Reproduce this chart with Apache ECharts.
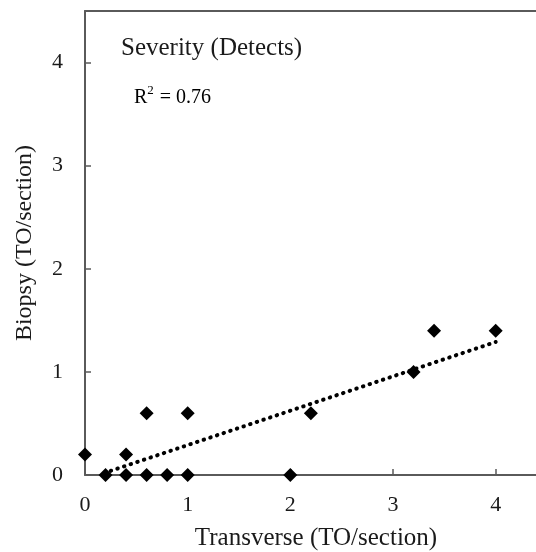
<!DOCTYPE html>
<html>
<head>
<meta charset="utf-8">
<script src="https://cdn.jsdelivr.net/npm/echarts@6/dist/echarts.min.js"></script>
<style>html,body{margin:0;padding:0;background:#fff;overflow:hidden}#c{width:536px;height:552px}</style>
</head>
<body>
<div id="c"></div>
<script>
var transverse = [0, 0.2, 0.4, 0.4, 0.6, 0.6, 0.8, 1, 1, 2, 2.2, 3.2, 3.4, 4];
var biopsy     = [0.2, 0, 0.2, 0, 0.6, 0, 0, 0.6, 0, 0, 0.6, 1.0, 1.4, 1.4];
var trendX = [0.25, 4];
var trendY = [0.04, 1.29];
var tickValues = [0, 1, 2, 3, 4];
var xTitle = 'Transverse (TO/section)';
var yTitle = 'Biopsy (TO/section)';
var chartTitle = 'Severity (Detects)';
var r2Base = 'R';
var r2Sup = '2';
var r2Rest = ' = 0.76';

var FONT = '"Liberation Serif", "Times New Roman", serif';
var TXT = '#1a1a1a';
var AX = '#5a5a5a';

var points = transverse.map(function (x, i) { return [x, biopsy[i]]; });
var trend = trendX.map(function (x, i) { return [x, trendY[i]]; });

var chart = echarts.init(document.getElementById('c'), null, {renderer: 'canvas'});
var axisCommon = {
  type: 'value', min: 0, max: 4.5, interval: 1,
  splitLine: {show: false},
  axisLine: {show: true, onZero: false, lineStyle: {color: AX, width: 2}},
  axisTick: {show: true, inside: true, length: 6, lineStyle: {color: AX, width: 1.5}},
  nameTextStyle: {fontFamily: FONT, color: TXT}
};
chart.setOption({
  animation: false,
  backgroundColor: '#fff',
  grid: {left: 85, top: 11, width: 462, height: 464, containLabel: false, outerBoundsMode: 'none'},
  xAxis: [
    Object.assign({}, axisCommon, {
      position: 'bottom',
      name: xTitle, nameLocation: 'middle', nameGap: 51,
      nameTextStyle: {fontFamily: FONT, color: TXT, fontSize: 25},
      axisLabel: {fontFamily: FONT, color: TXT, fontSize: 22, margin: 19, showMaxLabel: false,
        formatter: function (v) { return tickValues.indexOf(v) >= 0 ? String(v) : ''; }}
    }),
    Object.assign({}, axisCommon, {
      position: 'top', axisTick: {show: false}, axisLabel: {show: false}
    })
  ],
  yAxis: Object.assign({}, axisCommon, {
    position: 'left',
    name: yTitle, nameLocation: 'middle', nameRotate: 90, nameGap: 48,
    nameTextStyle: {fontFamily: FONT, color: TXT, fontSize: 24},
    axisLabel: {fontFamily: FONT, color: TXT, fontSize: 22, margin: 22, showMaxLabel: false,
      formatter: function (v) { return tickValues.indexOf(v) >= 0 ? String(v) : ''; }}
  }),
  series: [
    {
      type: 'line', data: trend, xAxisIndex: 0, symbol: 'none', silent: true,
      lineStyle: {color: '#000', width: 4, type: [0.5, 6.5], cap: 'round'}, z: 2
    },
    {
      type: 'scatter', data: points, xAxisIndex: 0, symbol: 'diamond', symbolSize: 14,
      itemStyle: {color: '#000', opacity: 1}, z: 3, clip: false
    }
  ],
  graphic: [
    {type: 'text', left: 121, top: 36, style: {text: chartTitle, font: '25px ' + FONT, fill: TXT}},
    {type: 'text', left: 134, top: 84, style: {
      text: '{b|' + r2Base + '}{s|' + r2Sup + '}{b|' + r2Rest + '}',
      rich: {
        b: {fontFamily: FONT, fontSize: 20, color: TXT, lineHeight: 24, verticalAlign: 'bottom'},
        s: {fontFamily: FONT, fontSize: 13, color: TXT, lineHeight: 24, verticalAlign: 'top', padding: [0, 1, 8, 0]}
      }
    }}
  ]
});
</script>
</body>
</html>
